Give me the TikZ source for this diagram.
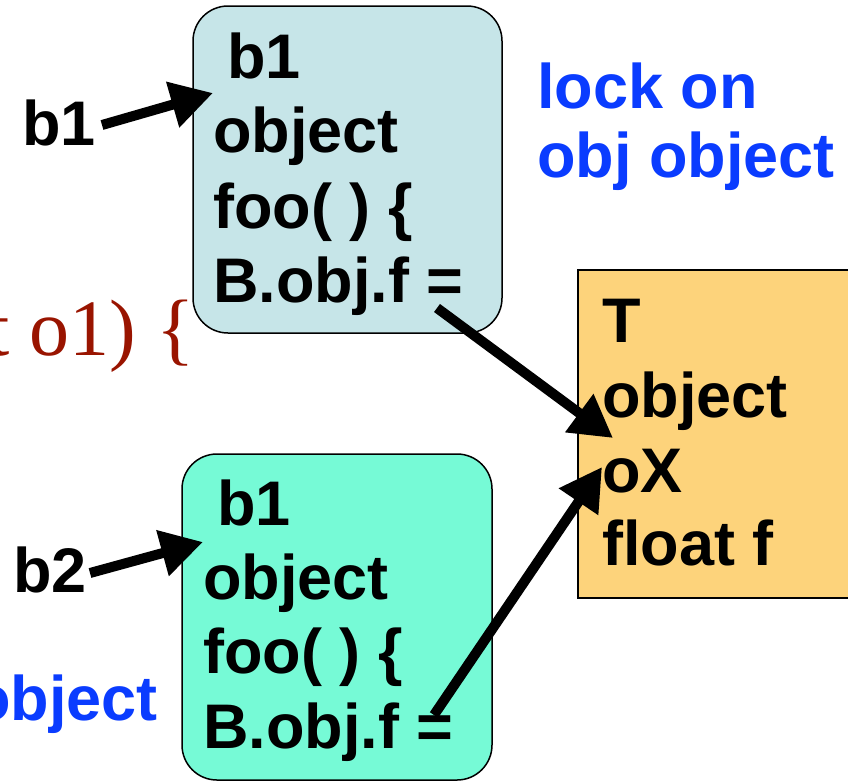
\documentclass[tikz,border=0pt]{standalone}
\usepackage{fontspec}
\setmainfont{Liberation Sans}
\newfontfamily\serifface{Liberation Serif}
\usetikzlibrary{arrows.meta}
\definecolor{boxblue}{RGB}{198,229,232}
\definecolor{boxgreen}{RGB}{118,250,214}
\definecolor{boxorange}{RGB}{253,211,123}
\definecolor{noteblue}{RGB}{10,60,255}
\definecolor{codered}{RGB}{153,20,0}
\begin{document}
\begin{tikzpicture}[x=1pt,y=-1pt,
  frame/.style={draw=black,line width=1.5pt},
  code/.style={anchor=base west,inner sep=0pt,font=\fontsize{63}{75}\selectfont\bfseries},
  note/.style={code,text=noteblue},
  ptr/.style={line width=10pt,-{Triangle[length=42pt,width=45pt]}}
]
\useasboundingbox (0,0) rectangle (848,782);
\clip (0,0) rectangle (848,782);

% object boxes
\draw[frame,fill=boxblue,rounded corners=35pt] (193,6) rectangle (502,333);
\draw[frame,fill=boxgreen,rounded corners=35pt] (182,454) rectangle (492,780);
\draw[frame,fill=boxorange] (578,270) rectangle (870,598);

% fragment of the surrounding source line
\node[anchor=base east,inner sep=0pt,text=codered,
      font=\serifface\fontsize{80}{90}\selectfont] (src) at (195,355) {t o1) \{};

% contents of the first box
\node[code] (a1) at (227,78)  {b1};
\node[code] (a2) at (213,152) {object};
\node[code] (a3) at (213,228) {foo( ) \{};
\node[code] (a4) at (213,302) {B.obj.f =};

% contents of the second box
\node[code] (c1) at (217,525) {b1};
\node[code] (c2) at (203,599) {object};
\node[code] (c3) at (203,673) {foo( ) \{};
\node[code] (c4) at (203,748) {B.obj.f =};

% contents of the class box
\node[code] (t1) at (602,342) {T};
\node[code] (t2) at (602,417) {object};
\node[code] (t3) at (602,492) {oX};
\node[code] (t4) at (602,565) {float f};

% reference names
\node[code] (r1) at (22,145) {b1};
\node[code] (r2) at (13,592) {b2};

% notes
\node[note] (n1) at (537,108) {lock on};
\node[note] (n2) at (537,177) {obj object};
\node[note,anchor=base east] (n3) at (158,720) {object};

% pointer ends
\coordinate (p1s) at (102,125);
\coordinate (p1e) at (213,93);
\coordinate (p2s) at (90,573);
\coordinate (p2e) at (203,542);
\coordinate (p3s) at (437,308);
\coordinate (p3e) at (613,438);
\coordinate (p4s) at (434,715);
\coordinate (p4e) at (602,467);

\draw[ptr] (p1s) -- (p1e);
\draw[ptr] (p2s) -- (p2e);
\draw[ptr] (p3s) -- (p3e);
\draw[ptr] (p4s) -- (p4e);
\end{tikzpicture}
\end{document}
